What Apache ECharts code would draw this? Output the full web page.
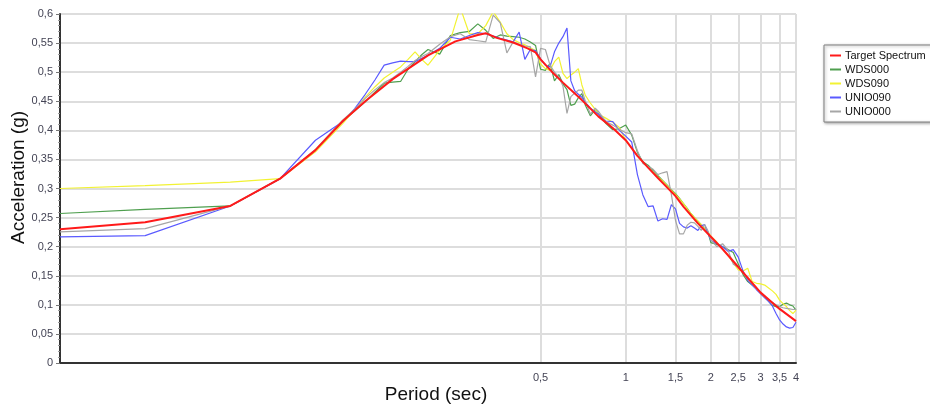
<!DOCTYPE html>
<html>
<head>
<meta charset="utf-8">
<script src="https://cdn.jsdelivr.net/npm/echarts@6/dist/echarts.min.js"></script>
<style>html,body{margin:0;padding:0;background:#fff;}#chart{width:930px;height:404px;}</style>
</head>
<body>
<div id="chart"></div>
<script>
// ---- data ----
const seriesNames = ['Target Spectrum', 'WDS000', 'WDS090', 'UNIO090', 'UNIO000'];
const xTickValues = [0.5, 1, 1.5, 2, 2.5, 3, 3.5, 4];

const targetPeriods = [0.01,0.02,0.04,0.06,0.08,0.1,0.12,0.15,0.2,0.25,0.3,0.32,0.35,0.4,0.45,0.48,0.5,0.55,0.6,0.7,0.8,0.9,1.0,1.1,1.2,1.3,1.4,1.5,1.6,1.8,2.0,2.2,2.5,3.0,3.5,4.0];
const targetValues  = [0.230,0.242,0.270,0.317,0.366,0.416,0.450,0.488,0.529,0.553,0.564,0.567,0.559,0.551,0.541,0.534,0.522,0.500,0.482,0.452,0.424,0.404,0.383,0.356,0.336,0.318,0.302,0.287,0.269,0.240,0.217,0.196,0.165,0.121,0.093,0.072];

const periods = [0.01,0.02,0.04,0.06,0.08,
  0.1,0.11,0.12,0.13,0.14,0.15,0.16,0.17,0.18,0.19,0.2,
  0.22,0.24,0.26,0.28,0.3,0.32,0.34,0.36,0.38,0.4,0.42,0.44,0.46,0.48,0.5,
  0.52,0.54,0.56,0.58,0.6,0.62,0.64,0.66,0.68,0.7,0.72,
  0.75,0.78,0.8,0.85,0.9,0.95,
  1.0,1.05,1.1,1.15,1.2,1.25,1.3,1.35,1.4,1.45,1.5,1.55,1.6,1.65,1.7,1.75,1.8,1.85,1.9,1.95,2.0,
  2.1,2.2,2.3,2.4,2.5,2.6,2.7,2.8,2.9,3.0,3.1,3.2,3.3,3.4,3.5,3.6,3.7,3.8,3.9,4.0];

const wds000 = [0.257,0.264,0.270,0.317,0.366,
  0.416,0.433,0.449,0.466,0.481,0.483,0.484,0.505,0.518,0.530,0.539,
  0.531,0.563,0.568,0.570,0.583,0.572,0.558,0.564,0.562,0.561,0.560,0.557,0.552,0.546,0.505,
  0.503,0.515,0.485,0.496,0.480,0.470,0.443,0.445,0.456,0.463,0.443,
  0.425,0.436,0.429,0.412,0.401,0.403,
  0.409,0.392,0.362,0.346,0.340,0.331,0.322,0.314,0.306,0.298,0.291,0.283,0.274,0.266,0.257,0.250,0.244,0.238,0.231,0.226,0.207,
  0.204,0.200,0.195,0.190,0.170,0.152,0.140,0.134,0.128,0.120,0.113,0.106,0.099,0.097,0.097,0.101,0.103,0.100,0.098,0.091];

const wds090 = [0.300,0.305,0.311,0.317,0.363,
  0.412,0.435,0.457,0.475,0.490,0.500,0.509,0.522,0.535,0.522,0.512,
  0.538,0.555,0.611,0.566,0.566,0.580,0.604,0.586,0.566,0.556,0.551,0.547,0.542,0.537,0.514,
  0.506,0.503,0.518,0.526,0.498,0.489,0.495,0.500,0.506,0.478,0.460,
  0.447,0.436,0.428,0.421,0.414,0.405,
  0.383,0.370,0.356,0.345,0.336,0.328,0.320,0.313,0.305,0.297,0.290,0.282,0.274,0.265,0.257,0.250,0.244,0.238,0.232,0.226,0.218,
  0.208,0.196,0.185,0.172,0.160,0.158,0.163,0.140,0.137,0.136,0.134,0.129,0.124,0.118,0.108,0.102,0.097,0.090,0.085,0.091];

const unio090 = [0.217,0.219,0.270,0.317,0.383,
  0.415,0.437,0.462,0.487,0.512,0.516,0.519,0.518,0.518,0.524,0.529,
  0.541,0.560,0.557,0.563,0.568,0.566,0.562,0.558,0.555,0.552,0.569,0.522,0.539,0.537,0.523,
  0.512,0.509,0.535,0.550,0.561,0.576,0.485,0.468,0.462,0.457,0.448,
  0.438,0.432,0.428,0.416,0.415,0.400,
  0.390,0.380,0.324,0.289,0.269,0.270,0.244,0.248,0.247,0.272,0.265,0.240,0.234,0.232,0.236,0.232,0.228,0.236,0.238,0.224,0.211,
  0.205,0.200,0.192,0.195,0.182,0.158,0.142,0.134,0.126,0.119,0.112,0.106,0.098,0.085,0.074,0.067,0.062,0.060,0.061,0.070];

const unio000 = [0.2255,0.231,0.270,0.317,0.367,
  0.418,0.436,0.455,0.470,0.482,0.490,0.500,0.510,0.520,0.527,0.532,
  0.548,0.561,0.566,0.556,0.554,0.552,0.598,0.585,0.533,0.552,0.548,0.545,0.544,0.492,0.541,
  0.539,0.512,0.500,0.492,0.476,0.429,0.458,0.464,0.469,0.469,0.450,
  0.428,0.438,0.433,0.415,0.409,0.402,
  0.396,0.394,0.365,0.343,0.338,0.333,0.324,0.327,0.329,0.290,0.245,0.222,0.222,0.237,0.242,0.241,0.235,0.228,0.238,0.228,0.212,
  0.200,0.205,0.194,0.170,0.165,0.155,0.145,0.136,0.128,0.120,0.114,0.109,0.104,0.100,0.097,0.095,0.094,0.093,0.092,0.092];

// ---- chart ----
const pair = (xs, ys) => xs.map((x, i) => [x, ys[i]]);
const comma = v => String(+(+v).toFixed(2)).replace('.', ',');
const FONT = 'Liberation Sans, Arial, sans-serif';

const chart = echarts.init(document.getElementById('chart'), null, {renderer: 'canvas'});
const lineSeries = (name, data, color, width, z) => ({
  name, type: 'line', data, showSymbol: false, symbol: 'none', z,
  lineStyle: {color, width}, itemStyle: {color}, emphasis: {disabled: true}
});

chart.setOption({
  animation: false,
  backgroundColor: '#ffffff',
  grid: {left: 60, right: 134, top: 14, bottom: 41, outerBoundsMode: 'none', containLabel: false},
  legend: {
    orient: 'vertical', left: 824, top: 45,
    data: seriesNames, icon: 'rect', itemWidth: 11, itemHeight: 2, itemGap: 3,
    padding: [5, 12, 5, 6],
    borderColor: '#808080', borderWidth: 1, backgroundColor: '#fff',
    shadowBlur: 3, shadowColor: 'rgba(0,0,0,0.35)', shadowOffsetX: 1, shadowOffsetY: 1,
    textStyle: {fontFamily: FONT, fontSize: 11, color: '#111', padding: [0, 0, 0, -1]}
  },
  xAxis: {
    type: 'log', logBase: 10, min: 0.01, max: 4,
    name: 'Period (sec)', nameLocation: 'middle', nameGap: 22, nameMoveOverlap: false,
    nameTextStyle: {fontFamily: FONT, fontSize: 19, color: '#111', padding: [0, 0, 0, 16]},
    axisLine: {lineStyle: {color: '#333', width: 2}},
    axisTick: {show: false, customValues: xTickValues},
    axisLabel: {customValues: xTickValues, formatter: comma, fontFamily: FONT, fontSize: 11, color: '#444455', margin: 9},
    splitLine: {show: true, lineStyle: {color: '#dddddd', width: 2}},
    minorTick: {show: false}, minorSplitLine: {show: false}
  },
  yAxis: {
    type: 'value', min: 0, max: 0.6, interval: 0.05,
    name: 'Acceleration (g)', nameLocation: 'middle', nameGap: 32, nameRotate: 90, nameMoveOverlap: false,
    nameTextStyle: {fontFamily: FONT, fontSize: 19, color: '#111', padding: [0, 0, 0, 22]},
    axisLine: {show: true, lineStyle: {color: '#333', width: 2}},
    axisTick: {show: true, length: 4, lineStyle: {color: '#777'}},
    minorTick: {show: true, splitNumber: 5, length: 2, lineStyle: {color: '#999'}},
    axisLabel: {formatter: comma, fontFamily: FONT, fontSize: 11, color: '#444455', margin: 7},
    splitLine: {show: true, lineStyle: {color: '#dddddd', width: 2}}
  },
  series: [
    lineSeries('WDS000', pair(periods, wds000), '#4f9f4f', 1.2, 2),
    lineSeries('WDS090', pair(periods, wds090), '#f2f233', 1.2, 2),
    lineSeries('UNIO090', pair(periods, unio090), '#5a5aff', 1.2, 2),
    lineSeries('UNIO000', pair(periods, unio000), '#a6a6a6', 1.2, 2),
    lineSeries('Target Spectrum', pair(targetPeriods, targetValues), '#ff1a1a', 2, 5)
  ]
});
</script>
</body>
</html>
